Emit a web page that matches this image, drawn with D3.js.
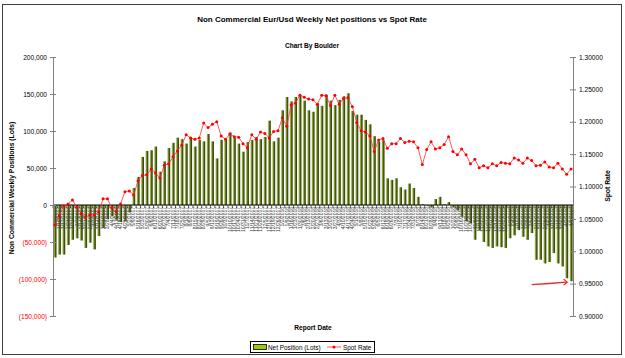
<!DOCTYPE html>
<html><head><meta charset="utf-8">
<script src="https://cdn.jsdelivr.net/npm/d3@7"></script>
<style>body{margin:0;background:#fff}svg{display:block}text{font-family:"Liberation Sans",Arial,sans-serif}</style>
</head><body><svg id="c" width="625" height="358"></svg>
<script>
const reportDates = [
"1/3/2017","1/10/2017","1/17/2017","1/24/2017","1/31/2017","2/7/2017","2/14/2017","2/21/2017","2/28/2017",
"3/7/2017","3/14/2017","3/21/2017","3/28/2017","4/4/2017","4/11/2017","4/18/2017","4/25/2017",
"5/2/2017","5/9/2017","5/16/2017","5/23/2017","5/30/2017","6/6/2017","6/13/2017","6/20/2017","6/27/2017",
"7/4/2017","7/11/2017","7/18/2017","7/25/2017","8/1/2017","8/8/2017","8/15/2017","8/22/2017","8/29/2017",
"9/5/2017","9/12/2017","9/19/2017","9/26/2017","10/3/2017","10/10/2017","10/17/2017","10/24/2017","10/31/2017",
"11/7/2017","11/14/2017","11/21/2017","11/28/2017","12/5/2017","12/12/2017","12/19/2017","12/26/2017",
"1/2/2018","1/9/2018","1/16/2018","1/23/2018","1/30/2018","2/6/2018","2/13/2018","2/20/2018","2/27/2018",
"3/6/2018","3/13/2018","3/20/2018","3/27/2018","4/3/2018","4/10/2018","4/17/2018","4/24/2018",
"5/1/2018","5/8/2018","5/15/2018","5/22/2018","5/29/2018","6/5/2018","6/12/2018","6/19/2018","6/26/2018",
"7/3/2018","7/10/2018","7/17/2018","7/24/2018","7/31/2018","8/7/2018","8/14/2018","8/21/2018","8/28/2018",
"9/4/2018","9/11/2018","9/18/2018","9/25/2018","10/2/2018","10/9/2018","10/16/2018","10/23/2018","10/30/2018",
"11/6/2018","11/13/2018","11/20/2018","11/27/2018","12/4/2018","12/11/2018","12/18/2018","12/25/2018",
"1/1/2019","1/8/2019","1/15/2019","1/22/2019","1/29/2019","2/5/2019","2/12/2019","2/19/2019","2/26/2019",
"3/5/2019","3/12/2019","3/19/2019","3/26/2019","4/2/2019","4/9/2019"];

const netPositions = [
-71000,-67000,-67000,-54000,-47000,-45000,-48000,-58000,-51000,-60000,
-42000,-31000,-19000,-15000,-20000,-23000,-22000,-10000,23000,38000,
65000,73000,74000,79000,45000,59000,77000,84000,91000,89000,
83000,92000,79000,88000,86000,96000,86000,63000,88000,88000,
98000,91000,83000,72000,85000,88000,92000,89000,92000,114000,
86000,91000,128000,146000,140000,146000,148000,141000,128000,126000,
137000,134000,149000,141000,135000,142000,147000,151000,127000,122000,
122000,115000,109000,93000,86000,88000,36000,34000,36000,24000,
21000,29000,23000,11000,1000,-1000,-3000,8000,11000,1000,
4000,-3000,-7000,-16000,-22000,-25000,-47000,-34000,-50000,-56000,
-58000,-56000,-57000,-58000,-45000,-41000,-34000,-43000,-47000,-38000,
-74000,-74000,-79000,-77000,-65000,-79000,-83000,-99000,-103000];

const spotRates = [
1.041,1.055,1.070,1.073,1.079,1.068,1.058,1.053,1.056,1.056,
1.061,1.081,1.081,1.067,1.061,1.073,1.092,1.093,1.087,1.109,
1.117,1.118,1.127,1.121,1.113,1.133,1.135,1.146,1.155,1.164,
1.180,1.175,1.173,1.175,1.198,1.191,1.196,1.200,1.178,1.173,
1.181,1.177,1.176,1.166,1.160,1.180,1.173,1.184,1.182,1.175,
1.185,1.186,1.206,1.193,1.226,1.229,1.241,1.238,1.235,1.234,
1.227,1.241,1.240,1.225,1.241,1.227,1.236,1.237,1.223,1.199,
1.186,1.184,1.178,1.154,1.172,1.174,1.159,1.166,1.166,1.174,
1.168,1.170,1.169,1.160,1.134,1.157,1.169,1.158,1.160,1.165,
1.177,1.154,1.149,1.158,1.149,1.135,1.142,1.129,1.132,1.129,
1.135,1.132,1.137,1.136,1.135,1.144,1.141,1.136,1.144,1.140,
1.132,1.133,1.138,1.130,1.129,1.136,1.127,1.119,1.127];

const leftTicks = [-150000,-100000,-50000,0,50000,100000,150000,200000];
const rightTicks = [0.90,0.95,1.00,1.05,1.10,1.15,1.20,1.25,1.30];
const arrowTarget = 0.95; // annotation arrow level on spot axis

const svg = d3.select("#c");
const W = 625, H = 358;
const plot = {l: 53, r: 573, t: 57, b: 316};

// frame
svg.append("rect").attr("x",0).attr("y",0).attr("width",W).attr("height",H).attr("fill","#fff");
svg.append("rect").attr("x",2.5).attr("y",4.5).attr("width",619).attr("height",350)
  .attr("fill","none").attr("stroke","#404040").attr("stroke-width",1);

const x = d3.scaleBand().domain(reportDates).range([plot.l, plot.r]).paddingInner(0.3).paddingOuter(0.1);
const yL = d3.scaleLinear().domain([-150000, 200000]).range([plot.b, plot.t]);
const yR = d3.scaleLinear().domain([0.90, 1.30]).range([plot.b, plot.t]);

// gradient for bars
const defs = svg.append("defs");
const g = defs.append("linearGradient").attr("id","barG").attr("x1","0").attr("x2","1").attr("y1","0").attr("y2","0");
g.append("stop").attr("offset","0").attr("stop-color","#dcdcee");
g.append("stop").attr("offset","0.3").attr("stop-color","#8fb232");
g.append("stop").attr("offset","0.6").attr("stop-color","#4e600e");
g.append("stop").attr("offset","1").attr("stop-color","#2c3600");

// bars
svg.append("g").selectAll("rect").data(netPositions).join("rect")
  .attr("x",(d,i)=>x(reportDates[i]))
  .attr("width",x.bandwidth())
  .attr("y",d=>yL(Math.max(0,d)))
  .attr("height",d=>Math.abs(yL(d)-yL(0)))
  .attr("fill","url(#barG)");

// category axis at zero
const xAxis = d3.axisBottom(x).tickSize(0).tickPadding(0);
const gx = svg.append("g").attr("transform",`translate(0,${yL(0)})`).call(xAxis);
gx.select(".domain").remove();
gx.selectAll(".tick text")
  .attr("transform","rotate(-90)")
  .attr("text-anchor","end")
  .attr("x",-2).attr("y",0).attr("dy","0.35em")
  .attr("font-size","5px").attr("fill","#3a3a3a").attr("font-family","Liberation Sans, Arial, sans-serif");
// ticks between categories
svg.append("g").selectAll("line").data(reportDates.concat(["__end"])).join("line")
  .attr("x1",(d,i)=>plot.l + i*x.step()).attr("x2",(d,i)=>plot.l + i*x.step())
  .attr("y1",yL(0)).attr("y2",yL(0)+3).attr("stroke","#000").attr("stroke-width",0.6);
svg.append("line").attr("x1",plot.l).attr("x2",plot.r).attr("y1",yL(0)).attr("y2",yL(0))
  .attr("stroke","#000").attr("stroke-width",1);

// left axis
const fmtL = d => d < 0 ? "(" + d3.format(",")(-d) + ")" : d3.format(",")(d);
const gl = svg.append("g").attr("transform",`translate(${plot.l},0)`)
  .call(d3.axisLeft(yL).tickValues(leftTicks).tickFormat(fmtL).tickSize(3).tickPadding(3));
gl.select(".domain").attr("stroke","#808080");
gl.selectAll(".tick line").attr("x1",3).attr("x2",-3).attr("stroke","#808080");
gl.selectAll(".tick text").attr("font-size","6.6px").attr("font-family","Liberation Sans, Arial, sans-serif")
  .attr("x",-6).attr("fill",d=>d<0?"#ff0000":"#000");

// right axis
const gr = svg.append("g").attr("transform",`translate(${plot.r},0)`)
  .call(d3.axisRight(yR).tickValues(rightTicks).tickFormat(d3.format(".5f")).tickSize(3).tickPadding(3));
gr.select(".domain").attr("stroke","#808080");
gr.selectAll(".tick line").attr("x1",-3).attr("x2",3).attr("stroke","#808080");
gr.selectAll(".tick text").attr("font-size","6.6px").attr("font-family","Liberation Sans, Arial, sans-serif")
  .attr("x",6).attr("fill","#000");

// spot line
const cx = (i)=>x(reportDates[i]) + x.bandwidth()/2;
const line = d3.line().x((d,i)=>cx(i)).y(d=>yR(d));
svg.append("path").datum(spotRates).attr("d",line).attr("fill","none")
  .attr("stroke","#ff3030").attr("stroke-width",0.8);
svg.append("g").selectAll("circle").data(spotRates).join("circle")
  .attr("cx",(d,i)=>cx(i)).attr("cy",d=>yR(d)).attr("r",1.5).attr("fill","#ff0000");

// annotation arrow
const ay = yR(arrowTarget);
svg.append("path").attr("d",`M${cx(109)},${ay+1} Q${cx(113)},${ay} ${cx(117)},${ay-1.5}`)
  .attr("fill","none").attr("stroke","#e8282c").attr("stroke-width",1.3);
svg.append("path").attr("d",`M${cx(117)-3},${ay-4.5} L${cx(117)+0.5},${ay-1.5} L${cx(117)-3},${ay+1.5}`)
  .attr("fill","none").attr("stroke","#e8282c").attr("stroke-width",1.3);

// titles
svg.append("text").attr("x",312).attr("y",22).attr("text-anchor","middle")
  .attr("font-size","8px").attr("font-weight","bold").text("Non Commercial Eur/Usd Weekly Net positions vs Spot Rate");
svg.append("text").attr("x",312).attr("y",48).attr("text-anchor","middle")
  .attr("font-size","6.6px").attr("font-weight","bold").text("Chart By Boulder");
svg.append("text").attr("transform","translate(14,188) rotate(-90)").attr("text-anchor","middle")
  .attr("font-size","6.8px").attr("font-weight","bold").text("Non Commercial Weekly Positions (Lots)");
svg.append("text").attr("transform","translate(610,186) rotate(-90)").attr("text-anchor","middle")
  .attr("font-size","6.8px").attr("font-weight","bold").text("Spot Rate");
svg.append("text").attr("x",313).attr("y",330).attr("text-anchor","middle")
  .attr("font-size","6.6px").attr("font-weight","bold").text("Report Date");

// legend
const lg = svg.append("g");
lg.append("rect").attr("x",250.5).attr("y",341.5).attr("width",124).attr("height",11)
  .attr("fill","#fff").attr("stroke","#000").attr("stroke-width",1);
lg.append("rect").attr("x",253.5).attr("y",344.5).attr("width",13).attr("height",5)
  .attr("fill","#99cc00").attr("stroke","#000").attr("stroke-width",0.8);
lg.append("text").attr("x",268).attr("y",349.6).attr("font-size","6.4px").text("Net Position (Lots)");
lg.append("line").attr("x1",327).attr("x2",341).attr("y1",347).attr("y2",347).attr("stroke","#ff3030").attr("stroke-width",0.8);
lg.append("circle").attr("cx",334).attr("cy",347).attr("r",1.5).attr("fill","#ff0000");
lg.append("text").attr("x",343).attr("y",349.6).attr("font-size","6.4px").text("Spot Rate");
</script></body></html>
